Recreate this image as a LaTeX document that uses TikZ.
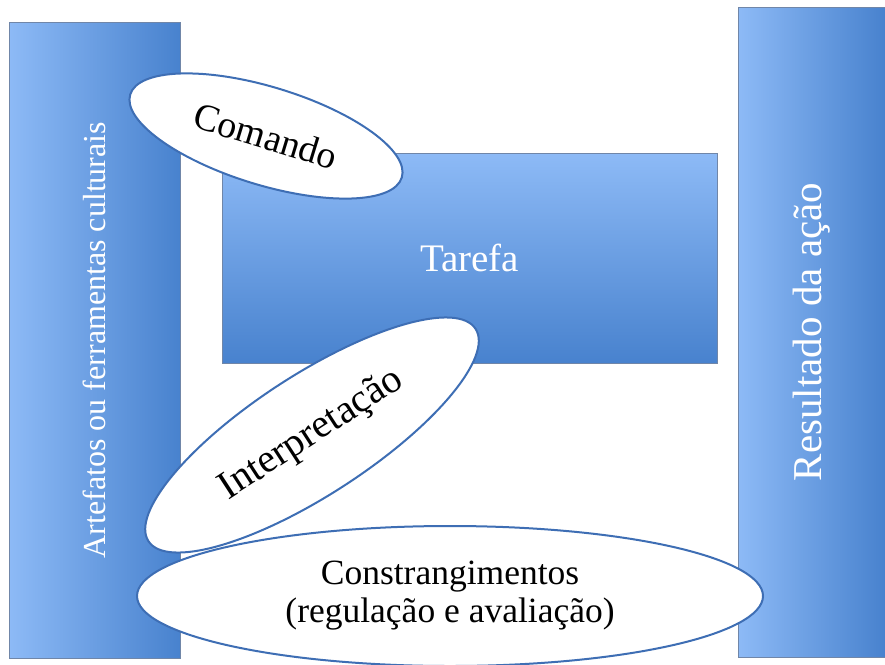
\documentclass[tikz,border=0pt]{standalone}
\usepackage{fontspec}
\setmainfont{Liberation Serif}
\usetikzlibrary{shapes.geometric}
\definecolor{barlight}{RGB}{141,186,246}
\definecolor{bardark}{RGB}{72,130,206}
\definecolor{barline}{RGB}{112,134,168}
\definecolor{ovalline}{RGB}{62,110,180}
\tikzset{
  bar/.style={draw=barline, line width=0.8pt, inner sep=0pt, outer sep=0pt, left color=barlight, right color=bardark},
  taskbox/.style={draw=barline, line width=0.8pt, inner sep=0pt, outer sep=0pt, top color=barlight, bottom color=bardark, text=white},
  bartext/.style={text=white, inner sep=0pt},
  oval/.style={ellipse, draw=ovalline, line width=2pt, fill=white, inner sep=0pt, text=black}
}
\begin{document}
\begin{tikzpicture}[x=1pt,y=-1pt]
  \useasboundingbox (0,0) rectangle (885,664);
  \node[bar, minimum width=171pt, minimum height=636pt] (artefatos) at (94.5,340) {}; % left bar
  \node[bartext, rotate=90, font=\fontsize{32}{36}\selectfont] (artefatostxt) at (artefatos.center) {Artefatos ou ferramentas culturais};
  \node[bar, minimum width=147pt, minimum height=650pt] (resultado) at (811.5,332) {}; % right bar
  \node[bartext, rotate=90, font=\fontsize{41}{46}\selectfont] (resultadotxt) at (resultado.center) {Resultado da ação};
  \node[taskbox, minimum width=495pt, minimum height=210pt, font=\fontsize{39}{44}\selectfont] (tarefa) at (469.5,258) {Tarefa}; % task
  \node[oval, rotate=-17, minimum width=284pt, minimum height=98pt, font=\fontsize{38}{42}\selectfont] (comando) at (266,136) {Comando};
  \node[oval, rotate=33, minimum width=390pt, minimum height=120pt, font=\fontsize{40}{44}\selectfont] (interpretacao) at (312,435) {Interpretação};
  \node[oval, align=center, minimum width=626pt, minimum height=140pt, font=\fontsize{35.5}{38}\selectfont] (constrangimentos) at (450,596) {Constrangimentos\\(regulação e avaliação)};
\end{tikzpicture}
\end{document}
